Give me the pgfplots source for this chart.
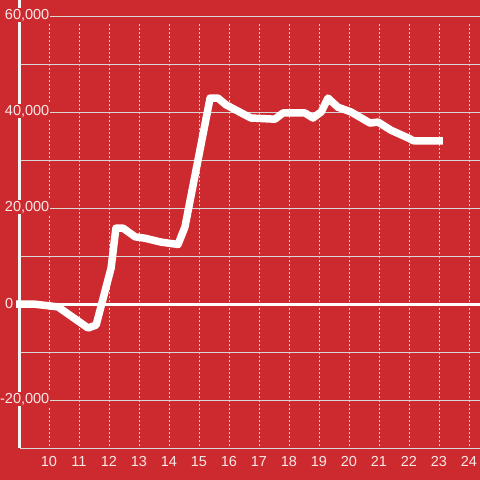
\documentclass[border=0pt]{standalone}
\usepackage{fontspec}
\setmainfont{Liberation Sans}
\newfontfamily\labfont{Liberation Sans}
\usepackage{pgfplots}
\pgfplotsset{compat=1.18}
\definecolor{bg}{RGB}{205,42,47}
\definecolor{lbl}{RGB}{247,232,232}
\definecolor{gridc}{RGB}{215,215,215}

\begin{document}
\begin{tikzpicture}
\fill[bg] (-20pt,-32pt) rectangle (460pt,448pt);
\useasboundingbox (-20pt,-32pt) rectangle (460pt,448pt);
\begin{axis}[
  scale only axis, width=460pt, height=448pt,
  xmin=9.0333, xmax=24.3667, ymin=-30000, ymax=63333,
  axis line style={draw=none},
  xtick={10,...,24}, ytick={-30000,-20000,...,60000},
  yticklabels={}, major tick length=0pt,
  ymajorgrids, major grid style={gridc, line width=0.9pt},
  /pgf/number format/assume math mode=true,
  xticklabel style={font=\labfont\fontsize{14.5}{17}\selectfont, text=lbl, yshift=-4.5pt},
  scaled y ticks=false,
  clip=false,
]
% dotted verticals
\pgfplotsinvokeforeach{10,...,24}{
  \draw[gridc, line width=0.9pt, dash pattern=on 2pt off 2pt] (axis cs:#1,-29600) -- (axis cs:#1,58700);
}
% zero line and left axis line
\draw[white, line width=3pt] (axis cs:9.0333,0) -- (axis cs:24.3667,0);
\draw[white!92!gray, line width=3pt] (axis cs:9.0333,-30000) -- (axis cs:9.0333,63333);
% y labels
\tikzset{ylab/.style={anchor=east, fill=bg, inner xsep=1pt, inner ysep=1pt, text=lbl, font=\labfont\fontsize{14.5}{17}\selectfont}}
\node[ylab] at (axis cs:10.05,60200) {60,000};
\node[ylab] at (axis cs:10.05,40200) {40,000};
\node[ylab] at (axis cs:10.05,20200) {20,000};
\node[ylab] at (axis cs:10.05,-19800) {-20,000};
\node[ylab, fill=none] at (axis cs:8.85,200) {0};
\addplot[white, line width=7.5pt, line join=round] coordinates {
 (8.9,0) (9.47,0) (10.3,-600) (11.3,-5000) (11.57,-4400) (12.07,7500)
 (12.23,15800) (12.47,15800) (12.87,14000) (13.2,13700) (13.73,12900)
 (14.3,12400) (14.53,16000) (15.37,42900) (15.63,42900) (15.9,41500)
 (16.73,38750) (17.53,38500) (17.8,39800) (18.53,39800) (18.8,38750)
 (19.07,40000) (19.3,42900) (19.63,41000) (20.07,40000) (20.7,37700)
 (20.97,37900) (21.4,36200) (21.97,34600) (22.15,34000) (23.13,34000)
};
\end{axis}
\end{tikzpicture}
\end{document}
